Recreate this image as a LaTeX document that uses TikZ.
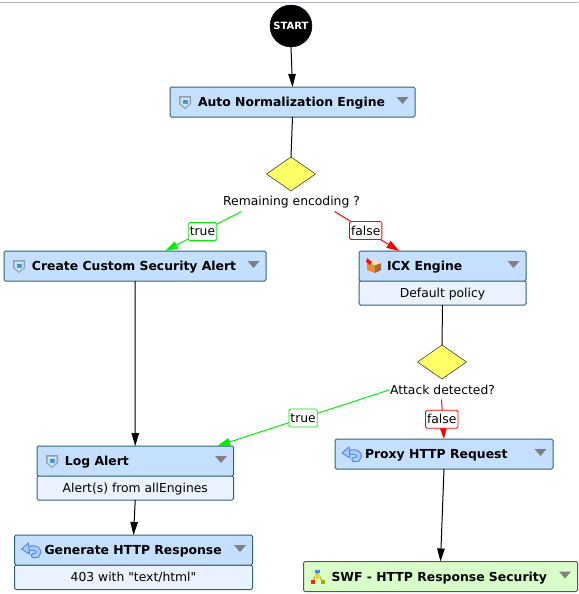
\documentclass[tikz,border=0pt]{standalone}
\usepackage{fontspec}
\setmainfont{DejaVu Sans}
\newfontfamily\plainfont{DejaVu Sans}
\usetikzlibrary{arrows.meta,shapes.geometric,calc}
\definecolor{hdrblue}{HTML}{C4DFFF}
\definecolor{bodyblue}{HTML}{EAF2FF}
\definecolor{hdrgreen}{HTML}{D9FFC8}
\definecolor{edgeteal}{HTML}{2F666E}
\definecolor{edgebrown}{HTML}{5E5A3C}
\definecolor{arrgreen}{HTML}{00EE00}
\definecolor{arrred}{HTML}{FF0000}
\definecolor{diafill}{HTML}{FFFF66}
\definecolor{topline}{HTML}{B4B4C0}
\definecolor{icondark}{HTML}{4F86DC}
\definecolor{iconlight}{HTML}{A6CBF8}
\newcommand{\hdtext}[3][28]{\hbox to #2pt{\hskip #1pt\rule[-3pt]{0pt}{15pt}\smash{\fontsize{12.4}{15}\selectfont\bfseries #3}\hfil}}
\newcommand{\bdtext}[2]{\hbox to #1pt{\hfil\rule[-1.5pt]{0pt}{11.5pt}\smash{#2}\hfil}}
\tikzset{
  x=1pt,y=-1pt,
  hdr/.style={draw=edgeteal,line width=1pt,fill=hdrblue,rounded corners=1.5pt,inner sep=0pt,outer sep=0pt,minimum height=30pt,anchor=north west},
  hdrg/.style={hdr,draw=edgebrown,fill=hdrgreen},
  bodybox/.style={draw=edgeteal,line width=1pt,fill=bodyblue,rounded corners=1.5pt,inner sep=0pt,outer sep=0pt,minimum height=24.5pt,anchor=north,font=\fontsize{12.35}{14}\selectfont},
  deci/.style={diamond,aspect=1.45,draw=black!75,line width=.6pt,fill=diafill,inner sep=0pt,outer sep=0pt,minimum width=49pt,minimum height=34pt},
  cond/.style={font=\fontsize{12.35}{14}\selectfont,inner sep=1pt,outer sep=0pt,minimum height=19pt},
  flow/.style={line width=1pt,draw=black,-{Triangle[length=13pt,width=7.5pt]}},
  tru/.style={line width=1pt,draw=arrgreen,-{Triangle[length=13pt,width=8pt]}},
  fal/.style={line width=1pt,draw=arrred,-{Triangle[length=13pt,width=8pt]}},
  lab/.style={draw,fill=white,rounded corners=1.5pt,line width=.8pt,font=\fontsize{12.35}{14}\selectfont,inner xsep=1.5pt,inner ysep=0pt,minimum height=18pt,text=black},
  tri/.style={fill=gray,draw=none},
}
\newcommand{\dropdown}[1]{\fill[tri] ($(#1.north east)+(-18.5,10)$) -- ++(12,0) -- ++(-6,7) -- cycle;}
\newcommand{\shieldicon}[1]{%
  \begin{scope}[shift={($(#1.north west)+(15,15)$)}]
    \fill[black!35!bodyblue] (-6,-6) -- (6,-6) -- (6,2) -- (0,7) -- (-6,2) -- cycle;
    \fill[white!75!cyan] (-4.5,-4.5) -- (4.5,-4.5) -- (4.5,1.5) -- (0,5.5) -- (-4.5,1.5) -- cycle;
    \fill[cyan!60!blue!70] (-2.5,-2.5) rectangle (2.5,2);
    \fill[teal!60!black!70] (0,-1) circle (1.2);
  \end{scope}}
\newcommand{\arrowicon}[1]{%
  \begin{scope}[shift={($(#1.north west)+(16,15)$)}]
    \draw[icondark,line width=5.5pt,line cap=round] (-3,-1) .. controls (2,-3) and (8,-2) .. (8,2) .. controls (8,5) and (6,6) .. (3,5.5);
    \draw[iconlight,line width=3.5pt,line cap=round] (-3,-1) .. controls (2,-3) and (8,-2) .. (8,2) .. controls (8,5) and (6,6) .. (3,5.5);
    \fill[iconlight,draw=icondark,line width=.9pt,line join=round] (-9,-1) -- (-2,-7) -- (-1,4) -- cycle;
  \end{scope}}
\newcommand{\cubeicon}[1]{%
  \begin{scope}[shift={($(#1.north west)+(15,15)$)}]
    \fill[orange!60!brown!90] (-7,-3) -- (1,-1) -- (1,7) -- (-7,4) -- cycle;
    \fill[brown!85!black] (1,-1) -- (7,-3) -- (7,4) -- (1,7) -- cycle;
    \fill[orange!30!white] (-7,-3) -- (0,-6) -- (7,-3) -- (1,-1) -- cycle;
    \fill[red!85!orange] (-7,-8) -- (-2,-4) -- (-4,-1) -- (-8,-4) -- cycle;
  \end{scope}}
\newcommand{\flowicon}[1]{%
  \begin{scope}[shift={($(#1.north west)+(14,15)$)}]
    \draw[gray,line width=.6pt] (0,-4) -- (-4.5,4) (0,-4) -- (4.5,4);
    \fill[cyan!60!blue!80] (-2.5,-7) rectangle (2.5,-4);
    \fill[yellow!80!orange] (0,-3) -- (3,0) -- (0,3) -- (-3,0) -- cycle;
    \fill[red!70!orange] (-7,3) rectangle (-3,7);
    \fill[olive!70!yellow] (3,3) rectangle (7,7);
  \end{scope}}
\begin{document}
\begin{tikzpicture}
\useasboundingbox (0,0) rectangle (578,594);
\fill[white] (0,0) rectangle (578,594);
\draw[topline,line width=1.2pt] (0,2.5) -- (578,2.5);
% nodes
\node[ellipse,fill=black,draw=black,inner sep=0pt,outer sep=0pt,minimum width=42pt,minimum height=42pt,text=white,font=\fontsize{10}{12}\selectfont\bfseries] (start) at (291,26) {\hbox to 0pt{\hss START\hss}};
\node[hdr] (auto) at (170,87) {\hdtext{245}{Auto Normalization Engine}};
\node[deci] (d1) at (291,174) {};
\node[cond] (d1l) at (291.5,202) {Remaining encoding ?};
\node[hdr] (create) at (4,251) {\hdtext{262}{Create Custom Security Alert}};
\node[bodybox] (icxb) at (442.5,280.5) {\bdtext{167}{Default policy}};
\node[hdr] (icx) at (359,251) {\hdtext{167}{ICX Engine}};
\node[deci] (d2) at (442,362) {};
\node[cond] (d2l) at (442.5,390) {Attack detected?};
\node[bodybox] (logb) at (135.25,475.5) {\bdtext{196.5}{Alert(s) from allEngines}};
\node[hdr] (log) at (37,446) {\hdtext{196.5}{Log Alert}};
\node[hdr] (proxy) at (335,439) {\hdtext[30]{218}{Proxy HTTP Request}};
\node[bodybox] (genb) at (133.5,565) {\bdtext{238}{{\plainfont 403 with "text/html"}}};
\node[hdr] (gen) at (14.5,535) {\hdtext[30]{238}{Generate HTTP Response}};
\node[hdrg] (swf) at (303.5,561.5) {\hdtext{274}{SWF - HTTP Response Security}};
% icons and menus
\shieldicon{auto}\shieldicon{create}\shieldicon{log}
\cubeicon{icx}\arrowicon{proxy}\arrowicon{gen}\flowicon{swf}
\dropdown{auto}\dropdown{create}\dropdown{icx}\dropdown{log}\dropdown{proxy}\dropdown{gen}\dropdown{swf}
% connectors
\draw[flow] (start.south) -- (auto.north);
\draw[flow,-] (auto.south) -- (d1.north);
\draw[flow] (create.south) -- (log.north);
\draw[flow] (logb.south) -- (gen.north);
\draw[flow,-] (icxb.south) -- (d2.north);
\draw[flow] (proxy.south) -- (swf.north);
\draw[tru] ([xshift=-50pt]d1l.south) -- node[lab,draw=arrgreen,pos=.51] (lt1) {true} ([xshift=30pt]create.north);
\draw[fal] ([xshift=43pt]d1l.south) -- node[lab,draw=arrred,pos=.48] (lf1) {false} ([xshift=-43pt]icx.north);
\draw[tru] (d2l.west) -- node[lab,draw=arrgreen,pos=.5] (lt2) {true} ([xshift=82pt]log.north);
\draw[fal] ([xshift=-1pt]d2l.south) -- node[lab,draw=arrred,pos=.5,xshift=-1pt] (lf2) {false} (proxy.north);
\end{tikzpicture}
\end{document}
